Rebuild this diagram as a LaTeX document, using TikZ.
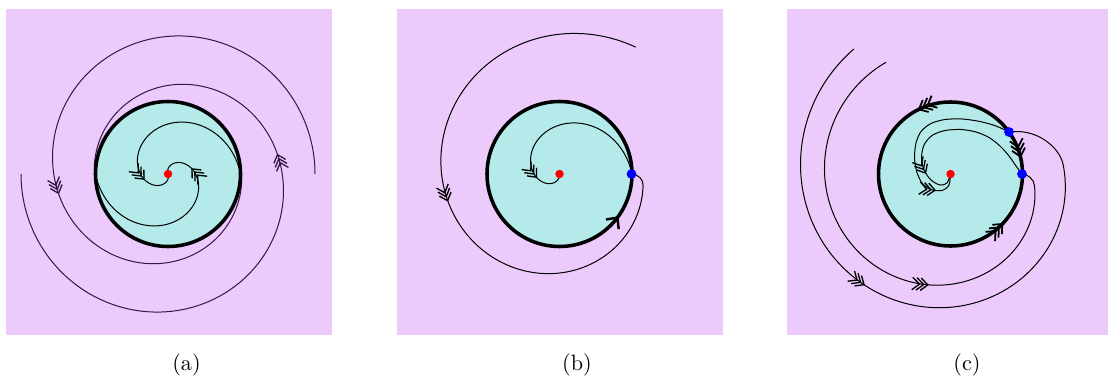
\documentclass[tikz,border=0pt]{standalone}
\definecolor{bgpurple}{RGB}{236,203,252}
\definecolor{disk}{RGB}{180,234,234}
\definecolor{dkpurple}{RGB}{55,20,70}
% three chevrons with apex at (#1,#2) pointing in screen direction #3
\newcommand\trichevat[3]{\begin{scope}[shift={(#1,#2)},rotate=#3]
  \foreach \s in {0,1.9,3.8}{\draw[line width=0.6pt] ([xshift=-\s pt]-3.2pt,2.8pt) -- ([xshift=-\s pt]0pt,0pt) -- ([xshift=-\s pt]-3.2pt,-2.8pt);}
  \end{scope}}
\newcommand\trichevthickat[3]{\begin{scope}[shift={(#1,#2)},rotate=#3]
  \foreach \s in {0,2.2,4.4}{\draw[line width=0.8pt] ([xshift=-\s pt]-3.4pt,3pt) -- ([xshift=-\s pt]0pt,0pt) -- ([xshift=-\s pt]-3.4pt,-3pt);}
  \end{scope}}
\newcommand\onebarbat[3]{\begin{scope}[shift={(#1,#2)},rotate=#3]
  \draw[line width=1.1pt] (-3.8pt,3.6pt) -- (0pt,0pt) -- (-3.8pt,-3.6pt);
  \end{scope}}
\tikzset{
  flow/.style={line width=0.45pt},
  limitcycle/.style={line width=1.6pt},
  reddot/.style={circle,fill=red,inner sep=0pt,minimum size=3.8pt},
  bluedot/.style={circle,fill=blue,inner sep=0pt,minimum size=4.4pt},
  caption/.style={font=\normalsize},
}
\begin{document}
\begin{tikzpicture}[x=0.45pt,y=-0.45pt]
\useasboundingbox (0,0) rectangle (1108,379);
% backgrounds
\fill[bgpurple] (6,9) rectangle (332,335);
\fill[bgpurple] (397,9) rectangle (723,335);
\fill[bgpurple] (787,9) rectangle (1108,335);
% centers
\coordinate (ca) at (168,174);
\coordinate (cb) at (559.5,174);
\coordinate (cc) at (950.5,174);
\coordinate (bb) at (631.5,174);
\coordinate (cu) at (1009,132);
\coordinate (cl) at (1022,174);
\fill[disk] (ca) circle (72.5);
\fill[disk] (cb) circle (72.5);
\fill[disk] (cc) circle (72);
% ---------- (a)
\begin{scope}[color=dkpurple]
\draw[flow] plot[domain=0:390,samples=140,smooth,variable=\t]
  ({168+(72.5+37.25*(1+cos(0.4615*\t)))*cos(\t)},{174-(72.5+37.25*(1+cos(0.4615*\t)))*sin(\t)});
\draw[flow] plot[domain=0:390,samples=140,smooth,variable=\t]
  ({168-(72.5+37.25*(1+cos(0.4615*\t)))*cos(\t)},{174+(72.5+37.25*(1+cos(0.4615*\t)))*sin(\t)});
\trichevat{58.5}{193.3}{288.8}
\trichevat{277.5}{154.7}{108.8}
\end{scope}
\draw[flow] plot[domain=0:290,samples=120,smooth,variable=\t]
  ({168+72.5*(1-\t/290)*cos(\t)},{174-72.5*(1-\t/290)*sin(\t)});
\draw[flow] plot[domain=0:290,samples=120,smooth,variable=\t]
  ({168-72.5*(1-\t/290)*cos(\t)},{174+72.5*(1-\t/290)*sin(\t)});
\trichevat{144.0}{179.1}{312.3}
\trichevat{192.0}{168.9}{132.3}
% ---------- (b)
\draw[flow] plot[domain=59:352,samples=110,smooth,variable=\t]
  ({559.5+(148-0.2707*(\t-59)+0.0001886*(\t-59)*(\t-59))*cos(\t)},{174-(148-0.2707*(\t-59)+0.0001886*(\t-59)*(\t-59))*sin(\t)})
  .. controls (643.8,179.8) and (638,174) .. (bb);
\draw[flow] plot[domain=0:277,samples=110,smooth,variable=\t]
  ({559.5+(72.5-0.2617*\t)*cos(\t)},{174-(72.5-0.2617*\t)*sin(\t)});
\trichevat{447.6}{200.7}{289.7}
\trichevat{536.4}{177.2}{310.8}
% ---------- (c)
\draw[flow] plot[domain=127.7:365,samples=110,smooth,variable=\t]
  ({950.5+(158-0.15*(\t-127.7)-0.00017*(\t-127.7)*(\t-127.7))*cos(\t)},{174-(158-0.15*(\t-127.7)-0.00017*(\t-127.7)*(\t-127.7))*sin(\t)})
  .. controls (1059.2,146.6) and (1036,128) .. (cu);
\draw[flow] plot[domain=120:352,samples=110,smooth,variable=\t]
  ({950.5+(129-0.003*(\t-120)-0.000802*(\t-120)*(\t-120))*cos(\t)},{174-(129-0.003*(\t-120)-0.000802*(\t-120)*(\t-120))*sin(\t)})
  .. controls (1034.2,179.8) and (1028,174) .. (cl);
\draw[flow] plot[smooth] coordinates {(cu) (996,126) (980,121.5) (962,119) (945,119.5) (931,123.5) (921,131.5) (916,143) (914.5,157) (916.5,171) (922,183) (931,189.5) (942,190.5) (949,185) (cc)};
\draw[flow] plot[smooth] coordinates {(cl) (1016,166) (1009,156) (1000,146) (989,137.5) (976,132) (961,129.5) (945,130.5) (932,135.5) (924,145) (921.5,158) (924,170) (931,180) (940,185) (947,183) (cc)};
\trichevat{864}{284.7}{326.3}
\trichevat{927.8}{284.9}{354.9}
\trichevat{935}{190.3}{352}
\trichevat{925.5}{173}{300}
% limit cycles
\draw[limitcycle] (ca) circle (72.5);
\draw[limitcycle] (cb) circle (72.5);
\draw[limitcycle] (cc) circle (72);
% arrows on circles
\onebarbat{617.4}{217.6}{53}
\trichevthickat{918.9}{109.3}{206}
\trichevthickat{1020.4}{156.6}{284}
\trichevthickat{1002.3}{224}{46}
% dots
\node[reddot] (ra) at (ca) {};
\node[reddot] (rb) at (cb) {};
\node[reddot] (rc) at (cc) {};
\node[bluedot] (db) at (bb) {};
\node[bluedot] (du) at (cu) {};
\node[bluedot] (dl) at (cl) {};
% captions
\node[caption] (capa) at (186.5,365) {(a)};
\node[caption] (capb) at (577,365) {(b)};
\node[caption] (capc) at (967,365) {(c)};
\end{tikzpicture}
\end{document}
